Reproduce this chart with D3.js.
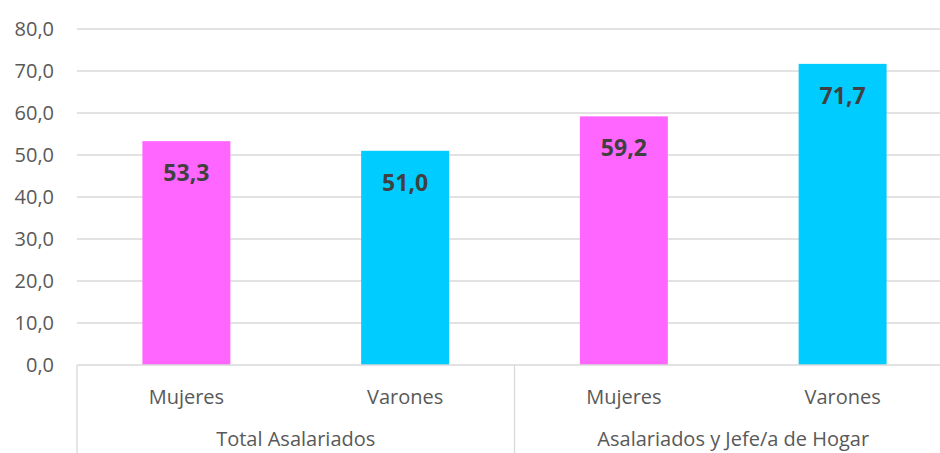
<!DOCTYPE html>
<html><head><meta charset="utf-8">
<script src="https://cdn.jsdelivr.net/npm/d3@7"></script>
<style>body{margin:0;background:#fff}svg{display:block}</style>
</head><body>
<svg id="c" width="940" height="453"></svg>
<script>
const groups = ["Total Asalariados", "Asalariados y Jefe/a de Hogar"];
const categories = ["Mujeres", "Varones", "Mujeres", "Varones"];
const values = [53.3, 51.0, 59.2, 71.7];
const colors = ["#FF66FF", "#00CCFF", "#FF66FF", "#00CCFF"];
const yTicks = [0, 10, 20, 30, 40, 50, 60, 70, 80];

(function () {
const svg = d3.select("#c");
const mLeft = 77, mRight = 952, mTop = 29, mBottom = 365;
const fmt = v => v.toFixed(1).replace(".", ",");
const font = "'Open Sans', sans-serif";

const y = d3.scaleLinear().domain([0, 80]).range([mBottom, mTop]);
const x = d3.scaleBand().domain(d3.range(categories.length)).range([mLeft, mRight]).paddingInner(0.598).paddingOuter(0.299);

svg.append("g").selectAll("line").data(yTicks.slice(1)).join("line")
  .attr("x1", mLeft).attr("x2", mRight)
  .attr("y1", d => y(d)).attr("y2", d => y(d))
  .attr("stroke", "#d9d9d9").attr("stroke-width", 1.3);

svg.append("g").selectAll("text").data(yTicks).join("text")
  .attr("x", 54).attr("y", d => y(d)).attr("dy", "0.35em")
  .attr("text-anchor", "end").attr("font-family", font).attr("font-size", 20)
  .attr("fill", "#595959").text(fmt);

svg.append("g").selectAll("rect").data(values).join("rect")
  .attr("x", (d, i) => x(i)).attr("width", x.bandwidth())
  .attr("y", d => y(d)).attr("height", d => y(0) - y(d))
  .attr("fill", (d, i) => colors[i]);

svg.append("g").selectAll("text").data(values).join("text")
  .attr("x", (d, i) => x(i) + x.bandwidth() / 2).attr("y", d => y(d) + 32)
  .attr("dy", "0.35em").attr("text-anchor", "middle")
  .attr("font-family", font).attr("font-size", 23).attr("font-weight", "bold")
  .attr("fill", "#404040").text(fmt);

svg.append("line").attr("x1", mLeft).attr("x2", mRight).attr("y1", y(0)).attr("y2", y(0))
  .attr("stroke", "#d9d9d9").attr("stroke-width", 1.3);
const step = (mRight - mLeft) / categories.length;
[mLeft, mLeft + step * 2].forEach(px => {
  svg.append("line").attr("x1", px).attr("x2", px).attr("y1", y(0)).attr("y2", 453)
    .attr("stroke", "#d9d9d9").attr("stroke-width", 1.3);
});

svg.append("g").selectAll("text").data(categories).join("text")
  .attr("x", (d, i) => x(i) + x.bandwidth() / 2).attr("y", 397).attr("dy", "0.35em")
  .attr("text-anchor", "middle").attr("font-family", font).attr("font-size", 20)
  .attr("fill", "#595959").text(d => d);

svg.append("g").selectAll("text").data(groups).join("text")
  .attr("x", (d, i) => mLeft + step * (2 * i + 1)).attr("y", 439).attr("dy", "0.35em")
  .attr("text-anchor", "middle").attr("font-family", font).attr("font-size", 20)
  .attr("fill", "#595959").text(d => d);
})();
</script>
</body></html>
